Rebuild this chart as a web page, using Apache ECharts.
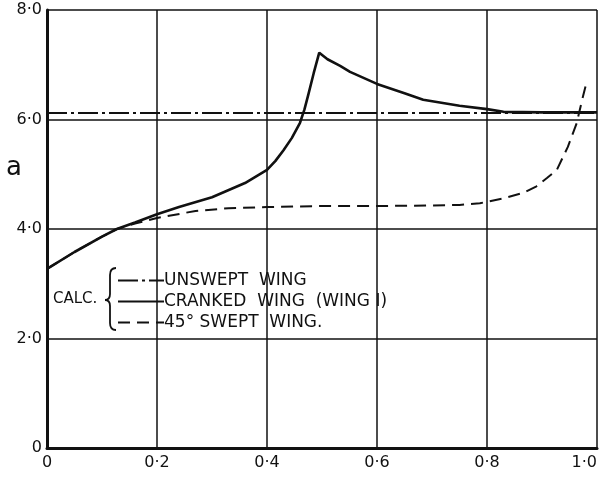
<!DOCTYPE html>
<html>
<head>
<meta charset="utf-8">
<script src="https://cdn.jsdelivr.net/npm/echarts@6/dist/echarts.min.js"></script>
<style>html,body{margin:0;padding:0;background:#fff;}#c{width:605px;height:479px;}</style>
</head>
<body>
<div id="c"></div>
<script>
const xTickLabels = ['0', '0·2', '0·4', '0·6', '0·8', '1·0'];
const yTickLabels = ['0', '2·0', '4·0', '6·0', '8·0'];
const seriesNames = ['UNSWEPT  WING', 'CRANKED  WING  (WING I)', '45° SWEPT  WING.'];

const etaUnswept = [0, 1.0];
const aUnswept = [6.12, 6.12];

const etaCranked = [0, 0.05, 0.1, 0.127, 0.16, 0.2, 0.24, 0.3, 0.36, 0.4, 0.415, 0.43, 0.445, 0.46, 0.468, 0.475, 0.485, 0.495, 0.51, 0.533, 0.551, 0.6, 0.65, 0.684, 0.75, 0.8, 0.83, 0.9, 1.0];
const aCranked = [3.27, 3.58, 3.86, 4.0, 4.12, 4.27, 4.40, 4.58, 4.84, 5.08, 5.24, 5.44, 5.66, 5.94, 6.18, 6.45, 6.85, 7.22, 7.10, 6.98, 6.87, 6.65, 6.48, 6.36, 6.25, 6.19, 6.14, 6.13, 6.13];

const etaSwept = [0, 0.05, 0.1, 0.127, 0.16, 0.2, 0.27, 0.33, 0.4, 0.5, 0.6, 0.7, 0.75, 0.787, 0.83, 0.866, 0.89, 0.909, 0.927, 0.947, 0.963, 0.973, 0.982];
const aSwept = [3.27, 3.58, 3.86, 4.0, 4.1, 4.2, 4.33, 4.38, 4.40, 4.42, 4.42, 4.43, 4.44, 4.47, 4.56, 4.66, 4.78, 4.93, 5.08, 5.5, 5.93, 6.36, 6.72];

const zip = (xs, ys) => xs.map((x, i) => [x, ys[i]]);
const FONT = 'DejaVu Sans';
const INK = '#111';
const braceStyle = {stroke: INK, lineWidth: 1.8, fill: null};

const chart = echarts.init(document.getElementById('c'), null, {renderer: 'canvas'});
chart.setOption({
  animation: false,
  backgroundColor: '#fff',
  color: [INK, INK, INK],
  grid: {left: 47, right: 8, top: 10, bottom: 31, containLabel: false, outerBoundsMode: 'none'},
  xAxis: {
    type: 'value', min: 0, max: 1, interval: 0.2,
    name: 'η', nameLocation: 'middle', nameGap: 5,
    nameTextStyle: {fontFamily: FONT, fontSize: 22, color: INK, padding: [0, 22, 0, 0]},
    axisLine: {show: true, lineStyle: {color: INK, width: 3}},
    axisTick: {show: false},
    axisLabel: {
      fontFamily: FONT, fontSize: 16, color: INK, margin: 7,
      alignMaxLabel: 'right',
      formatter: v => xTickLabels[Math.round(v / 0.2)]
    },
    splitLine: {show: true, lineStyle: {color: INK, width: 1.5}}
  },
  yAxis: {
    type: 'value', min: 0, max: 8, interval: 2,
    axisLine: {show: true, lineStyle: {color: INK, width: 3}},
    axisTick: {show: false},
    axisLabel: {
      fontFamily: FONT, fontSize: 16, color: INK, margin: 5,
      verticalAlign: 'middle', lineHeight: 16, padding: [8, 0, 0, 0],
      formatter: v => yTickLabels[Math.round(v / 2)]
    },
    splitLine: {show: true, lineStyle: {color: INK, width: 1.5}}
  },
  legend: {
    orient: 'vertical', left: 117, top: 272, padding: 0,
    itemWidth: 46, itemHeight: 14, itemGap: 4,
    itemStyle: {opacity: 0},
    textStyle: {fontFamily: FONT, fontSize: 17, color: INK, padding: [0, 0, 0, -5]},
    data: seriesNames
  },
  graphic: [
    {type: 'text', left: 53, top: 292, style: {text: 'CALC.', font: '15px "DejaVu Sans"', fill: INK}},
    {type: 'bezierCurve', shape: {x1: 116, y1: 268, cpx1: 110, cpy1: 268, x2: 110, y2: 275}, style: braceStyle},
    {type: 'line', shape: {x1: 110, y1: 275, x2: 110, y2: 294}, style: braceStyle},
    {type: 'bezierCurve', shape: {x1: 110, y1: 294, cpx1: 110, cpy1: 300, x2: 105, y2: 300}, style: braceStyle},
    {type: 'bezierCurve', shape: {x1: 105, y1: 300, cpx1: 110, cpy1: 300, x2: 110, y2: 306}, style: braceStyle},
    {type: 'line', shape: {x1: 110, y1: 306, x2: 110, y2: 323}, style: braceStyle},
    {type: 'bezierCurve', shape: {x1: 110, y1: 323, cpx1: 110, cpy1: 330, x2: 116, y2: 330}, style: braceStyle},
    {type: 'text', left: 6, top: 155, style: {text: 'a', font: '26px "DejaVu Sans"', fill: INK}}
  ],
  series: [
    {
      name: seriesNames[0], type: 'line', showSymbol: false, symbol: 'none',
      data: zip(etaUnswept, aUnswept),
      itemStyle: {color: INK},
      lineStyle: {color: INK, width: 2, type: [20, 4, 3, 4]}
    },
    {
      name: seriesNames[1], type: 'line', showSymbol: false, symbol: 'none',
      data: zip(etaCranked, aCranked),
      itemStyle: {color: INK},
      lineStyle: {color: INK, width: 2.6, type: 'solid'}
    },
    {
      name: seriesNames[2], type: 'line', showSymbol: false, symbol: 'none',
      data: zip(etaSwept, aSwept),
      itemStyle: {color: INK},
      lineStyle: {color: INK, width: 2, type: [12, 7]}
    }
  ]
});
</script>
</body>
</html>
